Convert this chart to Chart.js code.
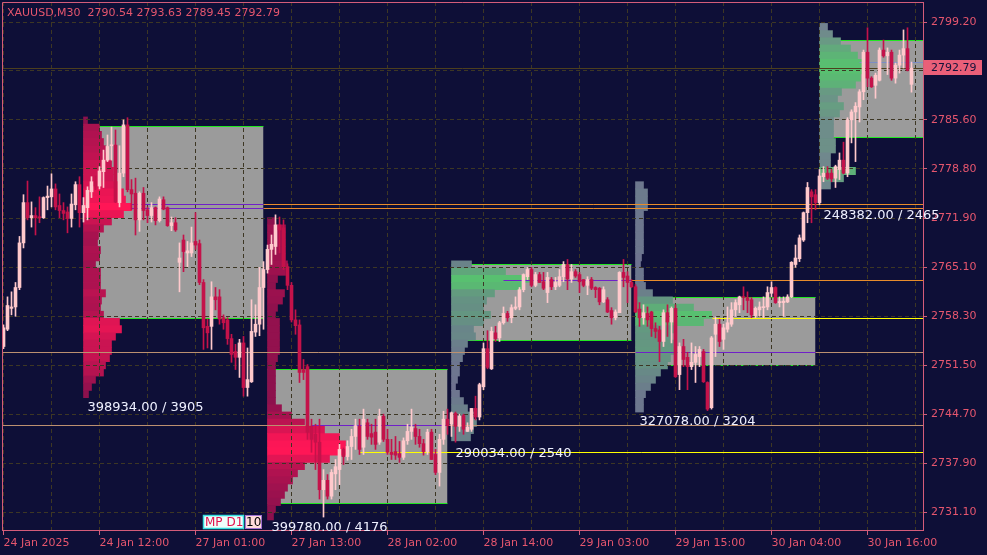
<!DOCTYPE html>
<html>
<head>
<meta charset="utf-8">
<title>XAUUSD,M30</title>
<script src="https://cdn.jsdelivr.net/npm/chart.js@4.4.1/dist/chart.umd.min.js"></script>
<style>
  html, body { margin: 0; padding: 0; background: #0e0f37; }
  #wrap { width: 987px; height: 555px; }
</style>
</head>
<body>
<div id="wrap"><canvas id="chart" width="987" height="555"></canvas></div>
<script>
// ---------- data ----------
const symbol = 'XAUUSD,M30';

// tick labels on the time axis (one every 24 bars) and the grid every 12 bars
const xTickBars = [0, 24, 48, 72, 96, 120, 144, 168, 192, 216];
const xTickLabels = ['24 Jan 2025', '24 Jan 12:00', '27 Jan 01:00', '27 Jan 13:00', '28 Jan 02:00',
  '28 Jan 14:00', '29 Jan 03:00', '29 Jan 15:00', '30 Jan 04:00', '30 Jan 16:00'];
const xGridBars = [0, 12, 24, 36, 48, 60, 72, 84, 96, 108, 120, 132, 144, 156, 168, 180, 192, 204, 216, 228];
const yTickValues = [2799.20, 2792.40, 2785.60, 2778.80, 2771.90, 2765.10, 2758.30, 2751.50, 2744.70, 2737.90, 2731.10];

// M30 candles
const open = [
  2754.1, 2756.5, 2759.4, 2759.6, 2762.3, 2768.5, 2774.1, 2772.0, 2772.3, 2772.1,
  2772.0, 2774.8, 2774.9, 2776.0, 2773.7, 2773.0, 2772.8, 2771.9, 2773.8, 2776.6,
  2772.7, 2773.4, 2775.6, 2777.0, 2776.4, 2778.4, 2780.0, 2782.0, 2782.1, 2774.1,
  2778.2, 2784.9, 2775.9, 2775.4, 2771.7, 2775.4, 2773.1, 2772.3, 2773.4, 2771.6,
  2774.5, 2773.4, 2770.9, 2771.3, 2765.8, 2768.9, 2767.1, 2767.1, 2768.7, 2768.4,
  2763.0, 2756.9, 2756.9, 2761.0, 2761.0, 2758.1, 2757.8, 2755.2, 2753.4, 2752.6,
  2754.6, 2748.4, 2749.2, 2756.1, 2757.2, 2762.3, 2764.8, 2767.6, 2768.0, 2771.0,
  2770.6, 2765.2, 2762.6, 2757.8, 2757.1, 2750.9, 2751.3, 2743.0, 2741.9, 2740.8,
  2734.2, 2735.5, 2733.3, 2736.4, 2737.0, 2739.8, 2738.8, 2740.2, 2741.6, 2743.0,
  2740.1, 2743.5, 2742.0, 2742.2, 2740.8, 2744.4, 2741.2, 2739.4, 2739.5, 2739.2,
  2738.7, 2741.0, 2742.3, 2742.7, 2741.6, 2740.6, 2739.5, 2742.2, 2739.1, 2736.6,
  2741.2, 2744.0, 2743.3, 2744.8, 2743.0, 2744.5, 2742.3, 2742.6, 2745.5, 2744.3,
  2748.5, 2753.8, 2751.0, 2756.0, 2755.3, 2757.4, 2758.7, 2758.1, 2759.4, 2759.6,
  2762.0, 2763.8, 2764.8, 2762.6, 2764.1, 2763.1, 2761.6, 2763.4, 2762.4, 2762.6,
  2763.8, 2765.5, 2763.5, 2764.5, 2764.1, 2763.4, 2762.6, 2763.4, 2762.3, 2762.2,
  2760.3, 2760.6, 2759.1, 2758.1, 2758.8, 2764.4, 2763.9, 2763.0, 2762.4, 2759.3,
  2758.1, 2758.7, 2758.9, 2756.6, 2756.4, 2754.8, 2758.8, 2757.5, 2759.4, 2750.2,
  2754.1, 2752.6, 2751.3, 2751.9, 2752.7, 2753.4, 2749.1, 2745.6, 2755.8, 2757.2,
  2755.1, 2756.5, 2757.2, 2759.2, 2759.9, 2761.0, 2760.9, 2760.6, 2758.4, 2759.2,
  2759.5, 2759.6, 2761.5, 2762.3, 2760.2, 2760.2, 2760.3, 2761.0, 2765.5, 2766.3,
  2768.9, 2772.7, 2775.6, 2775.2, 2774.1, 2777.7, 2778.2, 2778.2, 2777.5, 2778.7,
  2780.0, 2778.2, 2785.6, 2786.7, 2787.4, 2789.5, 2795.0, 2791.4, 2790.4, 2791.1,
  2795.3, 2794.5, 2795.0, 2791.4, 2793.2, 2794.6, 2795.5, 2790.54];
const high = [
  2757.1, 2761.0, 2761.7, 2763.0, 2769.4, 2775.2, 2777.1, 2774.2, 2773.4, 2774.9,
  2774.9, 2776.4, 2778.1, 2776.7, 2775.3, 2774.1, 2773.5, 2775.3, 2777.0, 2777.7,
  2774.8, 2776.3, 2777.7, 2777.8, 2779.1, 2781.4, 2783.5, 2784.6, 2784.2, 2782.0,
  2785.6, 2785.9, 2777.3, 2777.5, 2775.6, 2776.2, 2773.5, 2774.1, 2773.5, 2774.9,
  2774.9, 2773.5, 2772.1, 2772.0, 2768.5, 2769.6, 2768.7, 2770.7, 2772.7, 2768.9,
  2763.4, 2757.9, 2763.1, 2762.3, 2762.0, 2758.5, 2758.1, 2755.8, 2754.4, 2755.1,
  2755.5, 2753.9, 2760.6, 2759.9, 2765.1, 2765.9, 2768.2, 2769.6, 2772.4, 2772.1,
  2771.7, 2765.6, 2763.0, 2759.2, 2757.8, 2752.3, 2751.6, 2744.0, 2743.3, 2744.0,
  2737.0, 2736.3, 2737.0, 2738.4, 2740.5, 2740.0, 2741.0, 2742.6, 2744.0, 2744.0,
  2745.4, 2744.0, 2743.3, 2744.0, 2745.4, 2744.7, 2742.6, 2741.2, 2741.6, 2740.9,
  2741.4, 2743.3, 2745.4, 2743.3, 2742.6, 2741.2, 2742.6, 2742.6, 2739.8, 2741.9,
  2745.1, 2745.4, 2745.0, 2745.0, 2744.7, 2744.7, 2743.5, 2745.5, 2747.2, 2749.0,
  2754.6, 2756.3, 2756.8, 2756.9, 2757.6, 2759.6, 2759.0, 2759.9, 2761.0, 2762.3,
  2764.2, 2765.1, 2765.1, 2764.4, 2764.4, 2764.4, 2764.4, 2763.7, 2763.7, 2764.8,
  2765.9, 2766.2, 2765.5, 2764.8, 2764.4, 2763.4, 2763.8, 2763.7, 2762.4, 2762.3,
  2762.4, 2760.9, 2759.5, 2759.2, 2764.5, 2766.2, 2764.5, 2763.4, 2762.7, 2760.2,
  2759.9, 2759.6, 2759.0, 2757.4, 2756.9, 2759.2, 2759.9, 2759.6, 2759.9, 2754.6,
  2755.1, 2753.3, 2754.6, 2754.1, 2754.1, 2753.7, 2749.2, 2755.5, 2758.2, 2757.9,
  2757.2, 2759.6, 2760.2, 2760.6, 2761.1, 2762.4, 2761.7, 2760.9, 2759.6, 2760.3,
  2761.0, 2762.4, 2763.1, 2762.4, 2761.0, 2761.0, 2761.3, 2765.9, 2768.2, 2769.6,
  2772.8, 2776.9, 2775.9, 2775.9, 2778.7, 2779.1, 2779.1, 2778.7, 2779.3, 2781.0,
  2782.5, 2785.9, 2787.0, 2788.0, 2789.8, 2795.3, 2798.4, 2791.6, 2792.1, 2795.6,
  2796.7, 2795.6, 2795.3, 2793.5, 2795.3, 2798.1, 2798.4, 2793.63];
const low = [
  2753.8, 2756.3, 2758.5, 2758.3, 2762.0, 2767.8, 2771.7, 2770.7, 2769.6, 2771.3,
  2771.9, 2773.1, 2773.5, 2773.1, 2772.0, 2771.7, 2769.9, 2770.7, 2773.1, 2770.7,
  2771.4, 2771.7, 2774.8, 2775.9, 2776.0, 2776.2, 2779.8, 2780.0, 2774.1, 2773.5,
  2777.7, 2775.6, 2773.1, 2769.6, 2770.1, 2771.7, 2771.3, 2771.4, 2771.0, 2771.4,
  2773.1, 2770.8, 2770.2, 2770.1, 2761.7, 2764.5, 2765.2, 2766.6, 2767.6, 2762.7,
  2753.7, 2753.9, 2753.7, 2759.2, 2757.2, 2756.5, 2754.4, 2751.9, 2750.9, 2749.8,
  2747.2, 2747.2, 2749.1, 2755.5, 2755.6, 2756.5, 2764.3, 2765.5, 2766.9, 2767.1,
  2764.8, 2762.0, 2757.5, 2755.8, 2749.1, 2749.5, 2741.2, 2739.4, 2737.0, 2732.9,
  2730.4, 2732.9, 2732.9, 2734.2, 2734.9, 2737.7, 2738.3, 2738.4, 2739.8, 2739.1,
  2739.1, 2741.2, 2740.5, 2739.8, 2740.5, 2740.9, 2739.1, 2738.4, 2738.4, 2738.0,
  2738.4, 2740.5, 2741.2, 2740.5, 2740.1, 2739.0, 2739.1, 2738.4, 2736.3, 2734.7,
  2740.5, 2741.9, 2741.6, 2740.8, 2742.3, 2741.9, 2742.3, 2742.3, 2743.9, 2743.9,
  2748.1, 2751.0, 2750.9, 2754.8, 2754.8, 2757.2, 2757.6, 2757.4, 2759.2, 2759.2,
  2761.7, 2763.4, 2762.4, 2762.4, 2763.0, 2762.0, 2760.2, 2762.0, 2762.0, 2762.4,
  2763.1, 2762.0, 2763.0, 2763.7, 2761.6, 2762.4, 2761.3, 2762.0, 2760.9, 2759.9,
  2760.2, 2758.8, 2757.2, 2757.8, 2758.8, 2762.4, 2760.2, 2762.3, 2758.8, 2756.9,
  2757.2, 2756.9, 2755.5, 2755.3, 2752.0, 2754.1, 2755.5, 2754.6, 2749.8, 2748.1,
  2751.3, 2748.1, 2750.9, 2749.1, 2751.3, 2749.1, 2745.2, 2745.4, 2752.7, 2754.1,
  2753.7, 2756.1, 2756.9, 2758.3, 2758.8, 2759.2, 2758.8, 2758.1, 2758.1, 2758.3,
  2758.1, 2759.2, 2761.0, 2760.1, 2759.6, 2758.3, 2760.2, 2760.9, 2765.1, 2765.9,
  2768.7, 2771.3, 2771.3, 2773.1, 2773.8, 2777.0, 2777.3, 2777.0, 2776.2, 2777.3,
  2778.1, 2777.7, 2782.4, 2779.8, 2785.3, 2788.4, 2790.2, 2790.1, 2788.6, 2791.0,
  2794.3, 2791.9, 2791.1, 2790.7, 2792.1, 2792.8, 2792.4, 2789.45];
const close = [
  2756.7, 2759.8, 2759.6, 2762.3, 2768.5, 2774.1, 2772.0, 2772.3, 2772.0, 2772.0,
  2774.8, 2775.0, 2776.0, 2773.5, 2773.0, 2772.6, 2771.9, 2773.9, 2776.6, 2772.7,
  2773.7, 2775.8, 2777.0, 2776.4, 2778.5, 2780.0, 2781.9, 2782.1, 2774.2, 2778.2,
  2784.9, 2775.9, 2775.3, 2771.7, 2775.4, 2773.0, 2772.3, 2773.4, 2771.6, 2774.6,
  2773.2, 2770.9, 2771.3, 2770.3, 2766.4, 2767.3, 2767.4, 2768.5, 2768.2, 2763.0,
  2756.7, 2756.0, 2761.0, 2760.6, 2757.9, 2757.4, 2755.2, 2753.0, 2752.6, 2754.6,
  2748.4, 2749.5, 2756.2, 2757.2, 2762.3, 2764.8, 2767.6, 2768.3, 2771.0, 2770.3,
  2765.2, 2762.6, 2757.8, 2757.0, 2750.5, 2750.5, 2742.2, 2741.2, 2740.8, 2734.2,
  2735.5, 2733.3, 2736.6, 2737.4, 2739.8, 2738.8, 2740.2, 2741.6, 2743.1, 2739.8,
  2744.0, 2741.6, 2741.5, 2740.5, 2744.4, 2741.2, 2739.4, 2739.1, 2739.0, 2738.7,
  2741.0, 2742.3, 2742.9, 2741.6, 2740.6, 2739.5, 2742.2, 2738.4, 2736.6, 2741.2,
  2744.0, 2743.1, 2744.9, 2743.0, 2744.4, 2742.6, 2742.9, 2745.5, 2744.3, 2748.8,
  2753.8, 2751.2, 2756.2, 2755.2, 2757.4, 2758.7, 2758.1, 2759.5, 2759.6, 2762.0,
  2764.1, 2764.8, 2762.6, 2764.1, 2763.0, 2762.2, 2763.7, 2762.4, 2763.0, 2763.8,
  2765.5, 2763.5, 2764.5, 2763.9, 2763.1, 2762.6, 2763.4, 2762.2, 2762.0, 2760.3,
  2762.0, 2758.9, 2758.1, 2758.9, 2764.4, 2763.7, 2763.0, 2762.4, 2758.9, 2758.1,
  2758.8, 2757.8, 2756.6, 2756.2, 2754.8, 2758.8, 2757.5, 2759.4, 2749.9, 2754.1,
  2752.3, 2751.3, 2751.9, 2753.0, 2753.7, 2749.2, 2745.4, 2755.3, 2757.2, 2754.8,
  2756.7, 2757.4, 2759.2, 2760.2, 2761.0, 2760.9, 2760.5, 2758.5, 2759.4, 2759.6,
  2759.6, 2761.6, 2762.3, 2760.2, 2760.3, 2760.4, 2761.0, 2765.8, 2766.4, 2769.2,
  2772.7, 2776.2, 2774.9, 2774.1, 2777.8, 2778.2, 2777.5, 2777.4, 2779.1, 2780.0,
  2778.2, 2785.6, 2786.7, 2787.5, 2789.5, 2795.0, 2791.4, 2790.2, 2791.8, 2795.3,
  2794.5, 2795.0, 2791.4, 2793.2, 2794.6, 2795.5, 2792.5, 2792.79];

// daily market profile sessions (bar index where each day starts / ends)
const dayStart = [20, 66, 112, 158, 204];
const dayEnd = [65, 111, 157, 203, 229.875];
const valueAreaHigh = [2784.61, 2750.97, 2765.43, 2760.98, 2796.56];
const valueAreaLow = [2758.06, 2732.35, 2755.00, 2751.53, 2783.08];
const dayLabels = ['398934.00 / 3905', '399780.00 / 4176', '290034.00 / 2540', '327078.00 / 3204', '248382.00 / 2465'];

// profile rows: price of the top row, one row per 1.00, width in bars
const profileStep = 1.0;
const profileTop = [2785.5, 2771.5, 2765.5, 2776.5, 2798.5];
const profile24 = [1, 4, 4.5, 5, 5.5, 6, 7, 7.5, 7.5, 8.5, 10, 10.5, 12, 10, 7, 5, 3.75, 3.5, 4.25, 4,
  3, 4.25, 4.25, 4.25, 5.5, 4.5, 4.25, 5, 9, 9.5, 8, 7, 7, 6.5, 5.5, 5, 3, 2, 1.25];
const profile27 = [2, 4.5, 4.5, 4.5, 4.5, 4.5, 5, 4.5, 2.5, 2, 4.25, 3.75, 2.5, 2, 3, 3, 3, 3, 3, 2.5,
  2, 2, 2, 2, 2, 2, 3.5, 6, 9.25, 14.25, 18, 19.5, 20, 15.5, 9.25, 7.5, 6.25, 5, 4.25, 3.25, 2, 1.5];
const profile28 = [5, 13.5, 19.75, 17.75, 10.75, 8.75, 8, 9.75, 8, 5.5, 6, 4, 3.25, 2.75, 2, 2, 1.5, 1,
  2, 3, 4, 5.5, 6.25, 5.5, 4.75];
const profile29 = [2, 3, 3, 3, 2, 2, 2, 2, 2, 2, 1.5, 1.25, 2, 2, 2.5, 4.25, 9.25, 14.5, 19, 17, 10, 9,
  9.5, 10, 8.75, 8, 6.25, 5, 3.75, 2.5, 2, 2];
const profile30 = [2, 3.25, 5.25, 7.75, 9.5, 11, 11.25, 10.25, 9, 5.5, 4.5, 6, 5, 3.5, 3.5, 3.5, 4, 4,
  2.75, 2.75, 9, 6, 2.75];

// horizontal levels: price, from bar, to bar, kind
const levelPrice = [2773.90, 2773.90, 2773.35, 2773.35, 2763.34, 2763.34, 2758.06, 2753.20, 2753.20, 2753.20,
  2743.19, 2743.19, 2743.19, 2739.44, 2793.64];
const levelFrom = [32, 65, 32, 65, 125, 157, 177.25, -0.375, 158, 203, -0.375, 76.75, 111, 89, 214];
const levelTo = [65, 229.875, 65, 229.875, 157, 229.875, 229.875, 158, 203, 229.875, 76.75, 111, 229.875, 229.875, 229.875];
const levelKind = ['poc', 'naked', 'poc', 'naked', 'poc', 'naked', 'yellow', 'tan', 'poc', 'tan',
  'tan', 'poc', 'tan', 'yellow', 'blue'];

// ---------- styles ----------
const bgColor = '#0e0f37';
const gridColor = '#3d3724';
const axisColor = '#d45c7a';
const axisText = '#e6566e';
const bullColor = '#ffc9cc';
const bearColor = '#c4124a';
const vaFill = '#9b9b9b';
const vaEdge = '#22e622';
const levelColors = { poc: '#7020c8', naked: '#e88c2c', tan: '#bc9070', yellow: '#ffff00', blue: '#7c8cc4' };
const profilePalette = [
  [[128, 16, 76], [255, 22, 86]],
  [[128, 16, 76], [255, 22, 86]],
  [[112, 110, 146], [88, 192, 112]],
  [[112, 110, 146], [88, 192, 112]],
  [[120, 118, 150], [88, 192, 112]]
];
const fontFamily = '"DejaVu Sans", Verdana, sans-serif';
const xMin = -0.375, xMax = 229.875;
const yMin = 2728.60, yMax = 2801.98;

const mix = (pair, t) => 'rgb(' + pair[0].map((v, i) => Math.round(v + (pair[1][i] - v) * t)).join(',') + ')';

const profiles = [profile24, profile27, profile28, profile29, profile30];
const lastBar = close.length - 1;
const candleColors = open.map((o, i) => close[i] >= o ? bullColor : bearColor);

const datasets = [];

// candle bodies and wicks
datasets.push({
  type: 'bar', label: 'body', order: 0, grouped: false,
  data: open.map((o, i) => ({ x: i, y: [o, close[i]] })),
  backgroundColor: candleColors, barThickness: 3, minBarLength: 1
});
datasets.push({
  type: 'bar', label: 'wick', order: 1, grouped: false,
  data: low.map((l, i) => ({ x: i, y: [l, high[i]] })),
  backgroundColor: candleColors, barThickness: 1
});

// levels
levelPrice.forEach((p, k) => {
  datasets.push({
    type: 'line', order: 2, borderWidth: 1, pointRadius: 0,
    borderColor: levelColors[levelKind[k]],
    data: [{ x: levelFrom[k], y: p }, { x: levelTo[k], y: p }]
  });
});
// current price line
datasets.push({
  type: 'line', order: 2, borderWidth: 1, pointRadius: 0, borderColor: '#4d3f1e',
  data: [{ x: xMin, y: close[lastBar] }, { x: xMax, y: close[lastBar] }]
});

// volume profiles, horizontal bars
profiles.forEach((w, d) => {
  const maxW = Math.max(...w);
  datasets.push({
    type: 'bar', indexAxis: 'y', order: 3, grouped: false,
    data: w.map((v, k) => ({ y: profileTop[d] - k * profileStep, x: [dayStart[d], dayStart[d] + v] })),
    backgroundColor: w.map(v => mix(profilePalette[d], v / maxW)),
    barThickness: 7.3
  });
});

// value area boxes
dayStart.forEach((s, d) => {
  datasets.push({
    type: 'line', order: 4, borderWidth: 1, pointRadius: 0, borderColor: vaEdge,
    borderDash: d === 3 ? [3, 2] : [],
    data: [{ x: s, y: valueAreaLow[d] }, { x: dayEnd[d], y: valueAreaLow[d] }]
  });
  datasets.push({
    type: 'line', order: 5, borderWidth: 1, pointRadius: 0, borderColor: vaEdge,
    backgroundColor: vaFill, fill: { value: valueAreaLow[d] },
    data: [{ x: s, y: valueAreaHigh[d] }, { x: dayEnd[d], y: valueAreaHigh[d] }]
  });
});

let gridAgain = false;

const terminal = {
  id: 'terminal',
  beforeDraw(chart) {
    const { ctx } = chart;
    ctx.save();
    ctx.fillStyle = bgColor;
    ctx.fillRect(0, 0, chart.width, chart.height);
    ctx.restore();
    gridAgain = false;
  },
  beforeDatasetDraw(chart, args) {
    const ds = chart.data.datasets[args.index];
    // grid shows over the boxes and profiles but stays under the candles
    if (!gridAgain && ds.order <= 2) {
      chart.scales.x.drawGrid(chart.chartArea);
      chart.scales.y.drawGrid(chart.chartArea);
      gridAgain = true;
    }
    // keep the 1px horizontal lines on whole pixels
    if (ds.type === 'line') {
      const py = chart.scales.y.getPixelForValue(ds.data[0].y);
      chart.ctx.save();
      chart.ctx.translate(0, Math.floor(py) + 0.5 - py);
    }
  },
  afterDatasetDraw(chart, args) {
    if (chart.data.datasets[args.index].type === 'line') chart.ctx.restore();
  },
  afterDraw(chart) {
    const { ctx, chartArea: a } = chart;
    const x = chart.scales.x, y = chart.scales.y;
    ctx.save();

    // frame left and top
    ctx.strokeStyle = axisColor;
    ctx.lineWidth = 1;
    ctx.beginPath();
    ctx.moveTo(a.left + 0.5, a.bottom);
    ctx.lineTo(a.left + 0.5, a.top + 0.5);
    ctx.lineTo(a.right, a.top + 0.5);
    ctx.stroke();

    // title with the last bar
    ctx.font = '11px ' + fontFamily;
    ctx.fillStyle = axisText;
    ctx.textBaseline = 'middle';
    ctx.textAlign = 'left';
    const ohlc = [open[lastBar], high[lastBar], low[lastBar], close[lastBar]].map(v => v.toFixed(2)).join(' ');
    ctx.fillText(symbol + '  ' + ohlc, 7, 13);

    // day volume labels under each day's low
    ctx.font = '13px ' + fontFamily;
    ctx.fillStyle = '#eef0ff';
    dayStart.forEach((s, d) => {
      let lo = Infinity;
      for (let i = s; i <= Math.min(dayEnd[d], lastBar); i++) lo = Math.min(lo, low[i]);
      ctx.fillText(dayLabels[d], x.getPixelForValue(s) + 4, y.getPixelForValue(lo) + 11);
    });

    // indicator badge
    ctx.font = '12px ' + fontFamily;
    ctx.fillStyle = '#effffb';
    ctx.fillRect(203, 515, 41, 14);
    ctx.strokeStyle = '#36dcdc';
    ctx.lineWidth = 1.5;
    ctx.strokeRect(203.5, 515.5, 40, 13);
    ctx.fillStyle = '#e3124c';
    ctx.fillText('MP D1', 205, 522.5);
    ctx.fillStyle = '#ffdada';
    ctx.fillRect(245, 515, 17, 14);
    ctx.strokeStyle = '#a070d0';
    ctx.lineWidth = 1;
    ctx.strokeRect(245.5, 515.5, 16, 13);
    ctx.fillStyle = '#000000';
    ctx.fillText('10', 246, 522.5);

    // last price tag on the axis
    const py = Math.round(y.getPixelForValue(close[lastBar]));
    ctx.fillStyle = '#ea5f78';
    ctx.fillRect(a.right + 1, py - 8, 58, 15);
    ctx.font = '11px ' + fontFamily;
    ctx.fillStyle = '#12123a';
    ctx.fillText(close[lastBar].toFixed(2), a.right + 8, py);

    ctx.restore();
  }
};

const myChart = new Chart(document.getElementById('chart'), {
  type: 'bar',
  data: { datasets },
  plugins: [terminal],
  options: {
    responsive: false,
    devicePixelRatio: 1,
    animation: false,
    events: [],
    layout: { padding: { left: 2, top: 2, right: 0, bottom: 0 } },
    plugins: { legend: { display: false }, tooltip: { enabled: false } },
    scales: {
      x: {
        type: 'linear', position: 'bottom', min: xMin, max: xMax, offset: false, bounds: 'data',
        afterBuildTicks: s => { s.ticks = xGridBars.map(v => ({ value: v })); },
        afterFit: s => { s.height = 25; s.paddingLeft = 0; s.paddingRight = 0; },
        ticks: {
          autoSkip: false, maxRotation: 0, minRotation: 0, align: 'start', padding: 2,
          color: axisText, font: { family: fontFamily, size: 11 },
          callback: v => { const k = xTickBars.indexOf(v); return k >= 0 ? xTickLabels[k] : ''; }
        },
        grid: {
          offset: false, color: gridColor, lineWidth: 1, tickLength: 5,
          tickColor: ctx => (ctx.tick && xTickBars.includes(ctx.tick.value)) ? axisColor : 'rgba(0,0,0,0)'
        },
        border: { color: axisColor, dash: [4, 3] }
      },
      y: {
        type: 'linear', position: 'right', min: yMin, max: yMax, offset: false, bounds: 'data',
        beginAtZero: false,
        afterBuildTicks: s => { s.ticks = yTickValues.map(v => ({ value: v })); },
        afterFit: s => { s.width = 64; s.paddingTop = 0; s.paddingBottom = 0; },
        ticks: {
          padding: 4, color: axisText, font: { family: fontFamily, size: 11 },
          callback: v => v.toFixed(2)
        },
        grid: { offset: false, color: gridColor, lineWidth: 1, tickLength: 4, tickColor: axisColor },
        border: { color: axisColor, dash: [4, 3] }
      }
    }
  }
});
</script>
</body>
</html>
